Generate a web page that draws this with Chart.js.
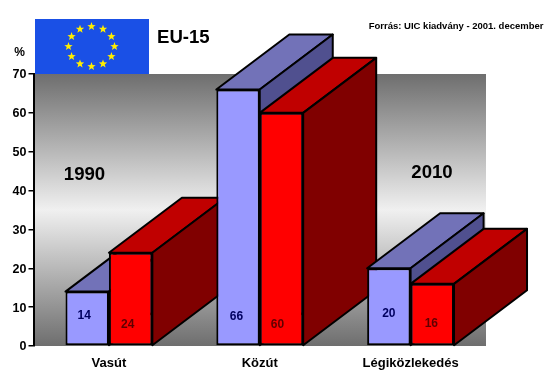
<!DOCTYPE html>
<html>
<head>
<meta charset="utf-8">
<style>
  html, body { margin: 0; padding: 0; background: #fff; }
  #wrap { width: 555px; height: 386px; }
</style>
<script src="https://cdn.jsdelivr.net/npm/chart.js@4"></script>
</head>
<body>
<div id="wrap"><canvas id="chart" width="555" height="386"></canvas></div>
<script>
const categories = ['Vasút', 'Közút', 'Légiközlekedés'];
const values1990 = [14, 66, 20];
const values2010 = [24, 60, 16];
const yTicks = [0, 10, 20, 30, 40, 50, 60, 70];

const FONT = '"Liberation Sans", Arial, sans-serif';

// depth of the fake 3D boxes, in pixels
const DEPTH_X = 73;
const DEPTH_Y = -55;

const COLORS = {
  blueFront: '#9999ff',
  blueTop: '#7272b8',
  blueSide: '#50508f',
  redFront: '#ff0000',
  redTop: '#c00000',
  redSide: '#800000',
  blueLabel: '#000060',
  redLabel: '#600000',
  flag: '#1a50e6',
  star: '#ffee00',
};

function poly(ctx, points, fill) {
  ctx.beginPath();
  points.forEach(([x, y], i) => (i ? ctx.lineTo(x, y) : ctx.moveTo(x, y)));
  ctx.closePath();
  ctx.fillStyle = fill;
  ctx.fill();
  ctx.stroke();
}

function star(ctx, cx, cy, r) {
  ctx.beginPath();
  for (let i = 0; i < 10; i++) {
    const rad = i % 2 ? r * 0.42 : r;
    const a = -Math.PI / 2 + (i * Math.PI) / 5;
    ctx.lineTo(cx + rad * Math.cos(a), cy + rad * Math.sin(a));
  }
  ctx.closePath();
  ctx.fill();
}

// gradient wall behind the bars
const wallPlugin = {
  id: 'wall',
  beforeDraw(chart) {
    const { ctx, chartArea: a } = chart;
    const g = ctx.createLinearGradient(0, a.top, 0, a.bottom);
    g.addColorStop(0, '#6e6e6e');
    g.addColorStop(0.5, '#f0f0f0');
    g.addColorStop(1, '#6e6e6e');
    ctx.save();
    ctx.fillStyle = g;
    ctx.fillRect(a.left, a.top, a.right - a.left, a.bottom - a.top);
    ctx.restore();
  },
};

// top and side faces of every bar, taken from the bar elements
const depthPlugin = {
  id: 'depth',
  beforeDatasetsDraw(chart) {
    const { ctx } = chart;
    const styles = [
      [COLORS.blueTop, COLORS.blueSide],
      [COLORS.redTop, COLORS.redSide],
    ];
    ctx.save();
    ctx.strokeStyle = '#000';
    ctx.lineWidth = 2;
    ctx.lineJoin = 'round';
    categories.forEach((_, i) => {
      [0, 1].forEach((d) => {
        const bar = chart.getDatasetMeta(d).data[i];
        const half = bar.width / 2;
        const l = bar.x - half;
        const r = bar.x + half;
        const t = bar.y;
        const b = bar.base;
        poly(ctx, [[l, t], [r, t], [r + DEPTH_X, t + DEPTH_Y], [l + DEPTH_X, t + DEPTH_Y]], styles[d][0]);
        poly(ctx, [[r, t], [r + DEPTH_X, t + DEPTH_Y], [r + DEPTH_X, b + DEPTH_Y], [r, b]], styles[d][1]);
      });
    });
    ctx.restore();
  },
};

// value labels, flag and free titles
const annotationPlugin = {
  id: 'annotations',
  afterDraw(chart) {
    const { ctx } = chart;
    ctx.save();
    ctx.textAlign = 'center';
    ctx.textBaseline = 'middle';

    ctx.font = 'bold 12px ' + FONT;
    const lifts = [[30, 29, 32], [21, 21, 22]];
    const nudges = [[-3, -1.5, 0], [-3, -4, -1]];
    const labelColors = [COLORS.blueLabel, COLORS.redLabel];
    [values1990, values2010].forEach((vals, d) => {
      const meta = chart.getDatasetMeta(d);
      ctx.fillStyle = labelColors[d];
      vals.forEach((v, i) => {
        ctx.fillText(String(v), meta.data[i].x + nudges[d][i], meta.data[i].base - lifts[d][i]);
      });
    });

    // EU flag
    ctx.fillStyle = COLORS.flag;
    ctx.fillRect(35, 19, 114, 55);
    ctx.fillStyle = COLORS.star;
    for (let i = 0; i < 12; i++) {
      const a = (i * Math.PI) / 6;
      star(ctx, 91.5 + 23 * Math.sin(a), 46.5 - 20 * Math.cos(a), 4.4);
    }

    ctx.fillStyle = '#000';
    ctx.font = 'bold 18.6px ' + FONT;
    ctx.textAlign = 'left';
    ctx.fillText('EU-15', 157, 38);
    ctx.textAlign = 'center';
    ctx.fillText('1990', 84.5, 175);
    ctx.fillText('2010', 432, 173);
    ctx.font = 'bold 12px ' + FONT;
    ctx.fillText('%', 19.5, 53);
    ctx.font = 'bold 9.5px ' + FONT;
    ctx.textAlign = 'right';
    ctx.fillText('Forrás: UIC kiadvány - 2001. december', 543.5, 26);
    ctx.restore();
  },
};

new Chart(document.getElementById('chart'), {
  type: 'bar',
  data: {
    labels: categories,
    datasets: [
      {
        label: '1990',
        data: values1990,
        backgroundColor: COLORS.blueFront,
        borderColor: '#000',
        borderWidth: 2,
        borderSkipped: false,
      },
      {
        label: '2010',
        data: values2010,
        backgroundColor: COLORS.redFront,
        borderColor: '#000',
        borderWidth: 2,
        borderSkipped: false,
      },
    ],
  },
  options: {
    responsive: false,
    animation: false,
    events: [],
    layout: { padding: { left: 0, right: 69, top: 74, bottom: 0 } },
    datasets: { bar: { barPercentage: 1, categoryPercentage: 0.576 } },
    plugins: { legend: { display: false }, tooltip: { enabled: false } },
    scales: {
      x: {
        afterFit(scale) { scale.height = 40; },
        border: { display: false },
        grid: { display: false },
        ticks: {
          color: '#000',
          padding: 2,
          font: { family: FONT, size: 13, weight: 'bold' },
        },
      },
      y: {
        min: 0,
        max: 70,
        afterFit(scale) { scale.width = 33.5; },
        afterBuildTicks(scale) { scale.ticks = yTicks.map((value) => ({ value })); },
        border: { display: true, color: '#000', width: 2 },
        grid: { drawOnChartArea: false, drawTicks: true, tickLength: 5, color: '#000', lineWidth: 1.5 },
        ticks: {
          color: '#000',
          padding: 2,
          labelOffset: 1,
          font: { family: FONT, size: 12.5, weight: 'bold' },
        },
      },
    },
  },
  plugins: [wallPlugin, depthPlugin, annotationPlugin],
});
</script>
</body>
</html>
